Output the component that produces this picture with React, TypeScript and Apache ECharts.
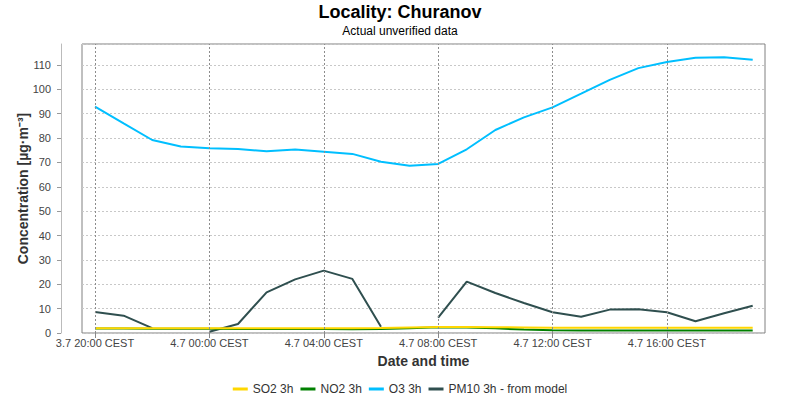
import React, { useEffect, useRef } from "react";
import * as echarts from "echarts";

// hours since 3.7 00:00 (20 = 3.7 20:00, 24 = 4.7 00:00 ...)
const TIMES = [20, 21, 22, 23, 24, 25, 26, 27, 28, 29, 30, 31, 32, 33, 34, 35, 36, 37, 38, 39, 40, 41, 42, 43];
const TICK_HOURS = [20, 24, 28, 32, 36, 40];
const Y_TICKS_MAX = 110;

const SO2 = [2.0, 2.0, 2.0, 2.0, 2.0, 2.0, 2.0, 2.0, 2.0, 2.0, 2.1, 2.3, 2.5, 2.5, 2.4, 2.3, 2.2, 2.2, 2.2, 2.2, 2.2, 2.2, 2.2, 2.2];
const NO2 = [1.8, 1.8, 1.7, 1.7, 1.7, 1.6, 1.6, 1.6, 1.6, 1.5, 1.6, 2.0, 2.4, 2.3, 1.9, 1.4, 1.1, 1.0, 1.0, 1.0, 1.0, 1.0, 1.0, 1.0];
const O3 = [92.9, 86.0, 79.2, 76.5, 75.8, 75.5, 74.6, 75.3, 74.4, 73.5, 70.3, 68.6, 69.4, 75.4, 83.3, 88.5, 92.6, 98.2, 103.9, 108.7, 111.2, 113.0, 113.2, 112.1];
const PM10 = [8.6, 7.1, 2.0, null, 0.5, 3.7, 16.7, 22.0, 25.6, 22.2, 2.6, null, 6.3, 21.1, 16.4, 12.3, 8.5, 6.7, 9.6, 9.7, 8.5, 4.8, 8.1, 11.2];

const SERIES_NAMES = ["SO2 3h", "NO2 3h", "O3 3h", "PM10 3h - from model"];
const COLORS = ["#FFD700", "#008000", "#00BFFF", "#2F4F4F"];

const FONT = "'Liberation Sans', Arial, sans-serif";

function fmtTime(v: number): string {
  const day = v < 24 ? "3.7" : "4.7";
  const h = Math.round(v) % 24;
  return `${day} ${String(h).padStart(2, "0")}:00 CEST`;
}

const pairs = (vals: (number | null)[]) => TIMES.map((t, i) => [t, vals[i]]);

export default function App() {
  const ref = useRef<HTMLDivElement>(null);
  useEffect(() => {
    document.body.style.margin = "0";
    if (!ref.current) return;
    const chart = echarts.init(ref.current, null, { renderer: "svg" });
    const mk = (idx: number, data: (number | null)[], extra: any = {}) => ({
      name: SERIES_NAMES[idx],
      type: "line",
      data: pairs(data),
      showSymbol: false,
      connectNulls: false,
      lineStyle: { color: COLORS[idx], width: 2 },
      itemStyle: { color: COLORS[idx] },
      emphasis: { disabled: true },
      ...extra,
    });
    chart.setOption({
      animation: false,
      backgroundColor: "#ffffff",
      textStyle: { fontFamily: FONT },
      title: [
        {
          text: "Locality: Churanov",
          left: "center",
          top: 3,
          padding: 0,
          textStyle: { fontSize: 18, fontWeight: "bold", color: "#000", fontFamily: FONT },
        },
        {
          text: "Actual unverified data",
          left: "center",
          top: 25,
          padding: 0,
          textStyle: { fontSize: 12, fontWeight: "normal", color: "#000", fontFamily: FONT },
        },
      ],
      legend: {
        data: SERIES_NAMES,
        bottom: 0,
        left: "center",
        icon: "rect",
        itemWidth: 15,
        itemHeight: 3,
        itemGap: 7,
        textStyle: { fontSize: 12, color: "#333", fontFamily: FONT },
      },
      grid: {
        left: 82,
        right: 35,
        top: 44,
        bottom: 67,
        show: true,
        borderColor: "#808080",
        borderWidth: 1,
        backgroundColor: "#ffffff",
        containLabel: false,
      },
      xAxis: {
        type: "value",
        min: 19.545,
        max: 43.43,
        name: "Date and time",
        nameLocation: "middle",
        nameGap: 21,
        nameMoveOverlap: false,
        nameTextStyle: { fontSize: 14, fontWeight: "bold", color: "#333", fontFamily: FONT },
        axisLine: { show: false },
        axisTick: { show: true, customValues: TICK_HOURS, length: 5, lineStyle: { color: "#888" } },
        axisLabel: {
          customValues: TICK_HOURS,
          formatter: (v: number) => fmtTime(v),
          fontSize: 11,
          color: "#444",
          margin: 4,
          fontFamily: FONT,
        },
        splitLine: { show: false },
      },
      yAxis: {
        type: "value",
        min: 0,
        max: 118.6,
        interval: 10,
        offset: 21,
        name: "Concentration [µg·m⁻³]",
        nameLocation: "middle",
        nameGap: 31,
        nameMoveOverlap: false,
        nameTextStyle: { fontSize: 14, fontWeight: "bold", color: "#333", fontFamily: FONT },
        axisLine: { show: true, lineStyle: { color: "#bbb" } },
        axisTick: { show: true, length: 4, lineStyle: { color: "#999" } },
        axisLabel: {
          showMaxLabel: false,
          fontSize: 11,
          color: "#444",
          margin: 10,
          fontFamily: FONT,
          formatter: (v: number) => (v <= Y_TICKS_MAX ? String(v) : ""),
        },
        splitLine: { show: true, lineStyle: { color: "#c8c8c8", type: [2, 2], width: 1 } },
      },
      series: [
        mk(3, PM10, {
          markLine: {
            silent: true,
            symbol: "none",
            label: { show: false },
            lineStyle: { color: "#8c8c8c", type: [2, 2], width: 1 },
            emphasis: { disabled: true },
            data: TICK_HOURS.map((h) => ({ xAxis: h })),
          },
        }),
        mk(2, O3),
        mk(1, NO2),
        mk(0, SO2),
      ],
    });
    return () => chart.dispose();
  }, []);
  return <div ref={ref} style={{ width: 800, height: 400 }} />;
}
